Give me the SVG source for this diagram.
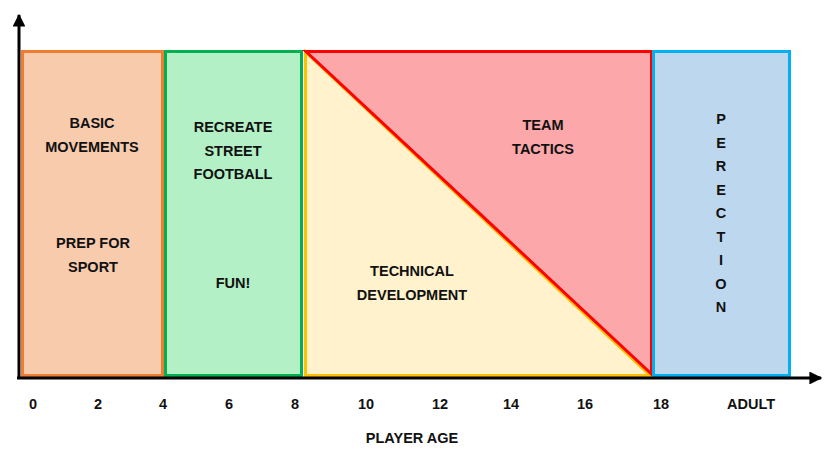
<svg xmlns="http://www.w3.org/2000/svg" width="835" height="467" viewBox="0 0 835 467">
<style>
text{font-family:"Liberation Sans",Arial,sans-serif;font-weight:bold;font-size:14.5px;fill:#111;text-anchor:middle}
.ax{stroke:#000;stroke-width:3;fill:none}
</style>
<defs>
<marker id="ah" viewBox="0 0 10 10" refX="9" refY="5" markerWidth="4.3" markerHeight="4.3" orient="auto" markerUnits="strokeWidth">
<path d="M0,0 L10,5 L0,10 z" fill="#000"/>
</marker>
</defs>
<rect width="835" height="467" fill="#fff"/>
<g id="basic">
<rect x="22.5" y="51.5" width="140" height="324" fill="#F8CBAD" stroke="#ED7D31" stroke-width="3"/>
<text x="92" y="128">BASIC</text>
<text x="92" y="152">MOVEMENTS</text>
<text x="93" y="248">PREP FOR</text>
<text x="93" y="272">SPORT</text>
</g>
<g id="street">
<rect x="165.5" y="51.5" width="136" height="324" fill="#B4F0C6" stroke="#00B050" stroke-width="3"/>
<text x="233" y="132">RECREATE</text>
<text x="233" y="156">STREET</text>
<text x="233" y="179">FOOTBALL</text>
<text x="233" y="288">FUN!</text>
</g>
<g id="technical">
<polygon points="305.5,52 305.5,375.5 650,375.5" fill="#FFF2CC" stroke="#FFC000" stroke-width="3" stroke-linejoin="miter"/>
<text x="412" y="276">TECHNICAL</text>
<text x="412" y="300">DEVELOPMENT</text>
</g>
<g id="tactics">
<polygon points="306,51.5 651.5,51.5 651.5,374" fill="#FCA7A9" stroke="#FF0000" stroke-width="3" stroke-linejoin="miter"/>
<text x="543" y="130">TEAM</text>
<text x="543" y="154">TACTICS</text>
</g>
<g id="perfection">
<rect x="653.5" y="51.5" width="136" height="324" fill="#BDD7EE" stroke="#00B0F0" stroke-width="3"/>
<text x="721" y="124">P</text>
<text x="721" y="147.5">E</text>
<text x="721" y="171">R</text>
<text x="721" y="194.5">E</text>
<text x="721" y="218">C</text>
<text x="721" y="241.5">T</text>
<text x="721" y="265">I</text>
<text x="721" y="288.5">O</text>
<text x="721" y="312">N</text>
</g>
<g id="connectors">
<line class="ax" x1="19" y1="379" x2="19" y2="15" marker-end="url(#ah)"/>
<line class="ax" x1="17" y1="378" x2="821" y2="378" marker-end="url(#ah)"/>
</g>
<g id="axis-labels">
<text x="33" y="409">0</text>
<text x="98" y="409">2</text>
<text x="163" y="409">4</text>
<text x="229" y="409">6</text>
<text x="295" y="409">8</text>
<text x="366" y="409">10</text>
<text x="440" y="409">12</text>
<text x="511" y="409">14</text>
<text x="585" y="409">16</text>
<text x="661" y="409">18</text>
<text x="751" y="409">ADULT</text>
<text x="412" y="443">PLAYER AGE</text>
</g>
</svg>
